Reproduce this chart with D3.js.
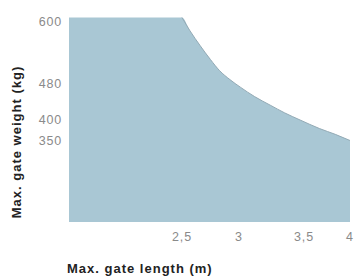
<!DOCTYPE html>
<html>
<head>
<meta charset="utf-8">
<script src="https://cdn.jsdelivr.net/npm/d3@7"></script>
<style>
  body { margin: 0; background: #fff; }
  svg { display: block; font-family: "Liberation Sans", Arial, sans-serif; }
</style>
</head>
<body>
<svg id="chart"></svg>
<script>
const width = 354;
const height = 276;

// values
const lengths = [1.5, 2.5, 2.57, 2.66, 2.75, 2.83, 2.92, 3.01, 3.12, 3.24, 3.35, 3.47, 3.67, 3.84, 4];
const weights = [600, 600, 576, 549, 524, 504, 488, 473, 452, 433, 416, 400, 379, 365, 350];
const xTicks = [2.5, 3, 3.5, 4];
const yTicks = [600, 480, 400, 350];

const plotLeft = 69, plotRight = 350, plotTop = 17.5, plotBottom = 222;

const svg = d3.select('#chart')
  .attr('width', width)
  .attr('height', height);

// labels on the original are hand placed, so scales are piecewise
const x = d3.scaleLinear()
  .domain([1.5, 2.5, 3, 3.5, 4])
  .range([plotLeft, 182, 239, 304, plotRight]);
const y = d3.scaleLinear()
  .domain([350, 400, 480, 600])
  .range([140.5, 120, 84, plotTop]);

const data = lengths.map((l, i) => ({x: l, y: weights[i]}));

svg.append('path')
  .datum(data)
  .attr('fill', '#a9c7d4')
  .attr('d', d3.area()
    .x(d => x(d.x))
    .y0(plotBottom)
    .y1(d => y(d.y))
    .curve(d3.curveMonotoneX));

svg.append('path')
  .datum(data.slice(1))
  .attr('fill', 'none')
  .attr('stroke', '#93aab5')
  .attr('stroke-width', 1)
  .attr('d', d3.line()
    .x(d => x(d.x))
    .y(d => y(d.y))
    .curve(d3.curveMonotoneX));

const fmt = d => String(d).replace('.', ',');

svg.append('g')
  .selectAll('text')
  .data(xTicks)
  .enter().append('text')
  .attr('x', d => x(d))
  .attr('y', 241)
  .attr('text-anchor', 'middle')
  .attr('font-size', 12.5)
  .attr('letter-spacing', 0.8)
  .attr('fill', '#8a8a8a')
  .text(fmt);

// the top label sits a little below the plot's top edge
svg.append('g')
  .selectAll('text')
  .data(yTicks)
  .enter().append('text')
  .attr('x', 62)
  .attr('y', d => Math.max(y(d), 22))
  .attr('dy', '0.35em')
  .attr('text-anchor', 'end')
  .attr('font-size', 12.5)
  .attr('letter-spacing', 0.8)
  .attr('fill', '#8a8a8a')
  .text(d => d);

svg.append('text')
  .attr('transform', 'translate(21, 142) rotate(-90)')
  .attr('text-anchor', 'middle')
  .attr('font-size', 13)
  .attr('letter-spacing', 1)
  .attr('font-weight', 'bold')
  .attr('fill', '#222')
  .text('Max. gate weight (kg)');

svg.append('text')
  .attr('x', 67)
  .attr('y', 273)
  .attr('font-size', 13)
  .attr('letter-spacing', 1)
  .attr('font-weight', 'bold')
  .attr('fill', '#222')
  .text('Max. gate length (m)');
</script>
</body>
</html>
